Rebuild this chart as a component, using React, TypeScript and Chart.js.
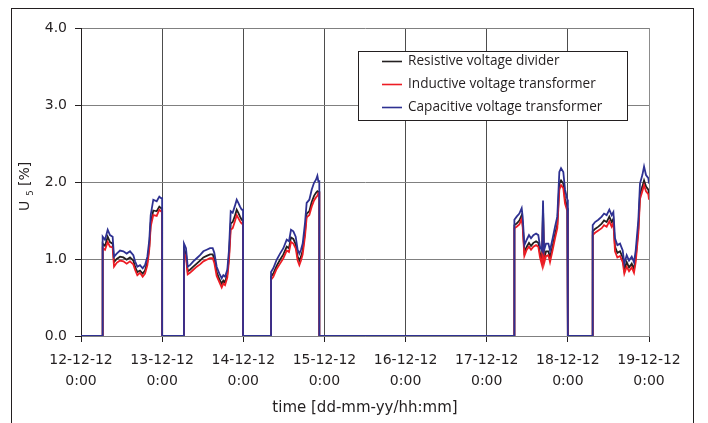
import React, { useEffect, useRef } from 'react';
import { Chart, registerables } from 'chart.js';

Chart.register(...registerables);

// time in days since 12-12-12 0:00
const TIME_DAYS = [
  0, 0.267, 0.267, 0.296, 0.329, 0.357, 0.39, 0.407, 0.44, 0.481, 0.522, 0.563, 0.604, 0.645, 0.666, 0.694, 0.727, 0.76, 0.789, 0.818, 0.842, 0.859, 0.891, 0.933, 0.965, 0.986, 1.0, 1.0,
  1.269, 1.269, 1.294, 1.315, 1.343, 1.384, 1.426, 1.467, 1.508, 1.549, 1.59, 1.623, 1.643, 1.672, 1.705, 1.734, 1.754, 1.775, 1.803, 1.824, 1.845, 1.869, 1.894, 1.919, 1.939, 1.96, 1.98, 1.997, 1.997,
  2.342, 2.342, 2.37, 2.411, 2.453, 2.494, 2.535, 2.563, 2.588, 2.617, 2.646, 2.67, 2.691, 2.711, 2.732, 2.761, 2.781, 2.814, 2.843, 2.872, 2.896, 2.913, 2.925, 2.937, 2.937,
  5.341, 5.341, 5.369, 5.402, 5.431, 5.443, 5.464, 5.493, 5.521, 5.546, 5.575, 5.608, 5.636, 5.657, 5.682, 5.694, 5.706, 5.731, 5.76, 5.78, 5.813, 5.842, 5.87, 5.895, 5.916, 5.944, 5.965, 5.994, 6.0, 6.0,
  6.306, 6.306, 6.335, 6.376, 6.417, 6.446, 6.478, 6.511, 6.54, 6.561, 6.581, 6.61, 6.643, 6.676, 6.696, 6.725, 6.754, 6.787, 6.815, 6.836, 6.869, 6.889, 6.918, 6.939, 6.963, 6.992, 7.0,
];

// Resistive voltage divider (black)
const RVD = [
  0, 0, 1.2, 1.17, 1.29, 1.22, 1.2, 0.96, 1.0, 1.03, 1.02, 0.99, 1.02, 0.98, 0.9, 0.83, 0.85, 0.81, 0.85, 0.96, 1.17, 1.47, 1.63, 1.62, 1.68, 1.66, 1.66, 0,
  0, 1.13, 1.07, 0.84, 0.86, 0.9, 0.94, 0.98, 1.02, 1.04, 1.06, 1.06, 1.0, 0.83, 0.74, 0.68, 0.72, 0.7, 0.8, 1.04, 1.46, 1.48, 1.55, 1.64, 1.6, 1.55, 1.51, 1.51, 0,
  0, 0.77, 0.81, 0.91, 0.99, 1.06, 1.16, 1.14, 1.28, 1.26, 1.19, 1.03, 0.98, 1.03, 1.11, 1.36, 1.59, 1.62, 1.74, 1.82, 1.86, 1.88, 1.87, 1.87, 0,
  0, 1.44, 1.46, 1.5, 1.57, 1.46, 1.09, 1.16, 1.21, 1.17, 1.21, 1.23, 1.21, 1.07, 0.98, 1.68, 1.0, 1.1, 1.1, 1.02, 1.17, 1.32, 1.45, 1.98, 2.02, 1.98, 1.78, 1.66, 1.66, 0,
  0, 1.36, 1.39, 1.42, 1.46, 1.5, 1.48, 1.55, 1.48, 1.52, 1.16, 1.08, 1.1, 1.02, 0.86, 0.96, 0.89, 0.94, 0.87, 1.01, 1.4, 1.84, 1.94, 2.02, 1.94, 1.9, 1.82,
];

// Inductive voltage transformer (red)
const IVT = [
  0, 0, 1.14, 1.12, 1.22, 1.16, 1.15, 0.9, 0.95, 0.98, 0.97, 0.94, 0.97, 0.93, 0.86, 0.79, 0.82, 0.77, 0.81, 0.92, 1.13, 1.42, 1.57, 1.56, 1.64, 1.62, 1.62, 0,
  0, 1.08, 1.02, 0.8, 0.82, 0.86, 0.9, 0.93, 0.97, 0.99, 1.01, 1.01, 0.95, 0.78, 0.7, 0.63, 0.68, 0.66, 0.76, 0.98, 1.38, 1.4, 1.48, 1.57, 1.53, 1.49, 1.46, 1.46, 0,
  0, 0.73, 0.77, 0.87, 0.94, 1.01, 1.11, 1.09, 1.22, 1.2, 1.14, 0.98, 0.92, 0.98, 1.06, 1.3, 1.54, 1.57, 1.68, 1.76, 1.8, 1.82, 1.86, 1.86, 0,
  0, 1.4, 1.42, 1.45, 1.52, 1.42, 1.04, 1.12, 1.16, 1.12, 1.16, 1.18, 1.16, 1.02, 0.92, 1.6, 0.94, 1.04, 1.05, 0.96, 1.12, 1.27, 1.4, 1.9, 1.96, 1.92, 1.72, 1.62, 1.62, 0,
  0, 1.31, 1.34, 1.37, 1.4, 1.44, 1.42, 1.49, 1.42, 1.47, 1.1, 1.02, 1.04, 0.96, 0.81, 0.9, 0.84, 0.89, 0.82, 0.96, 1.34, 1.78, 1.88, 1.96, 1.88, 1.84, 1.77,
];

// Capacitive voltage transformer (blue)
const CVT = [
  0, 0, 1.29, 1.25, 1.38, 1.31, 1.29, 1.03, 1.07, 1.11, 1.1, 1.07, 1.1, 1.05, 0.97, 0.9, 0.92, 0.88, 0.92, 1.03, 1.25, 1.57, 1.77, 1.75, 1.81, 1.79, 1.79, 0,
  0, 1.2, 1.14, 0.9, 0.92, 0.97, 1.01, 1.05, 1.1, 1.12, 1.14, 1.14, 1.08, 0.9, 0.81, 0.75, 0.79, 0.77, 0.86, 1.12, 1.62, 1.6, 1.68, 1.77, 1.73, 1.68, 1.64, 1.64, 0,
  0, 0.83, 0.88, 0.99, 1.07, 1.14, 1.25, 1.23, 1.38, 1.36, 1.29, 1.12, 1.07, 1.12, 1.2, 1.47, 1.73, 1.77, 1.9, 1.99, 2.03, 2.08, 2.01, 2.01, 0,
  0, 1.51, 1.55, 1.59, 1.66, 1.55, 1.18, 1.25, 1.31, 1.27, 1.31, 1.33, 1.31, 1.16, 1.11, 1.76, 1.11, 1.2, 1.2, 1.11, 1.27, 1.42, 1.55, 2.13, 2.18, 2.13, 1.9, 1.77, 1.77, 0,
  0, 1.44, 1.48, 1.51, 1.55, 1.59, 1.57, 1.64, 1.57, 1.61, 1.27, 1.18, 1.2, 1.11, 0.94, 1.05, 0.98, 1.03, 0.96, 1.11, 1.51, 1.98, 2.09, 2.2, 2.09, 2.05, 1.98,
];

const SERIES_LABELS = ['Resistive voltage divider', 'Inductive voltage transformer', 'Capacitive voltage transformer'];
const SERIES_COLORS = ['#231f20', '#ed1c24', '#2e3192'];
const X_TICK_DATES = ['12-12-12', '13-12-12', '14-12-12', '15-12-12', '16-12-12', '17-12-12', '18-12-12', '19-12-12'];
const X_TICK_TIME = '0:00';
const X_TITLE = 'time [dd-mm-yy/hh:mm]';
const Y_TITLE_MAIN = 'U';
const Y_TITLE_SUB = '5';
const Y_TITLE_UNIT = '[%]';

const FONT = "'DejaVu Sans', sans-serif";
const LEGEND_FONT = "'Open Sans', 'DejaVu Sans', sans-serif";
const TEXT = '#231f20';

const framePlugin = {
  id: 'frame',
  beforeDraw(chart: any) {
    const ctx = chart.ctx;
    ctx.save();
    ctx.fillStyle = '#ffffff';
    ctx.fillRect(0, 0, chart.width, chart.height);
    ctx.strokeStyle = TEXT;
    ctx.lineWidth = 1;
    ctx.strokeRect(11.5, 8.5, 682, 440);
    ctx.restore();
  },
};

const overlayPlugin = {
  id: 'overlay',
  afterDraw(chart: any) {
    const ctx = chart.ctx;
    ctx.save();
    // legend
    ctx.fillStyle = '#ffffff';
    ctx.fillRect(358.5, 51.5, 269, 69);
    ctx.strokeStyle = TEXT;
    ctx.lineWidth = 1;
    ctx.strokeRect(358.5, 51.5, 269, 69);
    const rows = [61, 84, 107];
    ctx.font = `13.6px ${LEGEND_FONT}`;
    ctx.textBaseline = 'middle';
    ctx.textAlign = 'left';
    chart.data.datasets.forEach((ds: any, i: number) => {
      ctx.strokeStyle = ds.borderColor;
      ctx.lineWidth = 1.6;
      ctx.beginPath();
      ctx.moveTo(382, rows[i] + 0.5);
      ctx.lineTo(402, rows[i] + 0.5);
      ctx.stroke();
      ctx.fillStyle = TEXT;
      ctx.fillText(ds.label, 408, rows[i]);
    });
    // y-axis title with subscript
    ctx.translate(28.5, 211);
    ctx.rotate(-Math.PI / 2);
    ctx.textBaseline = 'alphabetic';
    ctx.fillStyle = TEXT;
    ctx.font = `14px ${FONT}`;
    ctx.fillText(Y_TITLE_MAIN, 0, 0);
    ctx.font = `8.5px ${FONT}`;
    ctx.fillText(Y_TITLE_SUB, 15.3, 4);
    ctx.font = `14px ${FONT}`;
    ctx.fillText(Y_TITLE_UNIT, 25, 0);
    ctx.restore();
  },
};

export default function App() {
  const ref = useRef<HTMLCanvasElement | null>(null);
  useEffect(() => {
    if (!ref.current) return;
    const seriesValues = [RVD, IVT, CVT];
    const chart = new Chart(ref.current, {
      type: 'line',
      data: {
        datasets: seriesValues.map((vals, i) => ({
          label: SERIES_LABELS[i],
          data: TIME_DAYS.map((t, j) => ({ x: t, y: vals[j] })),
          borderColor: SERIES_COLORS[i],
          backgroundColor: SERIES_COLORS[i],
          borderWidth: 1.8,
          pointRadius: 0,
          tension: 0,
          fill: false,
          order: 2 - i,
        })),
      },
      options: {
        responsive: false,
        animation: false,
        devicePixelRatio: 1,
        layout: { padding: { left: 0, top: 28, right: 59, bottom: 0 } },
        plugins: { legend: { display: false }, tooltip: { enabled: false } },
        scales: {
          x: {
            type: 'linear',
            min: 0,
            max: 7,
            afterFit(scale: any) { scale.height = 87; },
            ticks: {
              stepSize: 1,
              autoSkip: false,
              maxRotation: 0,
              padding: 8,
              color: TEXT,
              font: { family: FONT, size: 14, lineHeight: 1.5 },
              callback: (v: any) => [X_TICK_DATES[v], X_TICK_TIME],
            },
            grid: {
              color: (c: any) => (c.index === 7 ? '#8c8c8c' : '#4d4d4d'),
              lineWidth: 1,
              tickLength: 6,
              tickColor: TEXT,
            },
            border: { color: '#808080', width: 1 },
            title: {
              display: true,
              text: X_TITLE,
              color: TEXT,
              font: { family: FONT, size: 15, lineHeight: 1.45 },
            },
          },
          y: {
            min: 0,
            max: 4,
            afterFit(scale: any) { scale.width = 81; },
            ticks: {
              stepSize: 1,
              padding: 8,
              color: TEXT,
              font: { family: FONT, size: 14 },
              callback: (v: any) => Number(v).toFixed(1),
            },
            grid: { color: '#808080', lineWidth: 1, tickLength: 6, tickColor: TEXT },
            border: { color: TEXT, width: 1 },
          },
        },
      },
      plugins: [framePlugin, overlayPlugin],
    } as any);
    return () => chart.destroy();
  }, []);
  return (
    <div style={{ position: 'fixed', left: 0, top: 0, width: 708, height: 423, background: '#fff' }}>
      <canvas ref={ref} width={708} height={423} style={{ display: 'block' }} />
    </div>
  );
}
